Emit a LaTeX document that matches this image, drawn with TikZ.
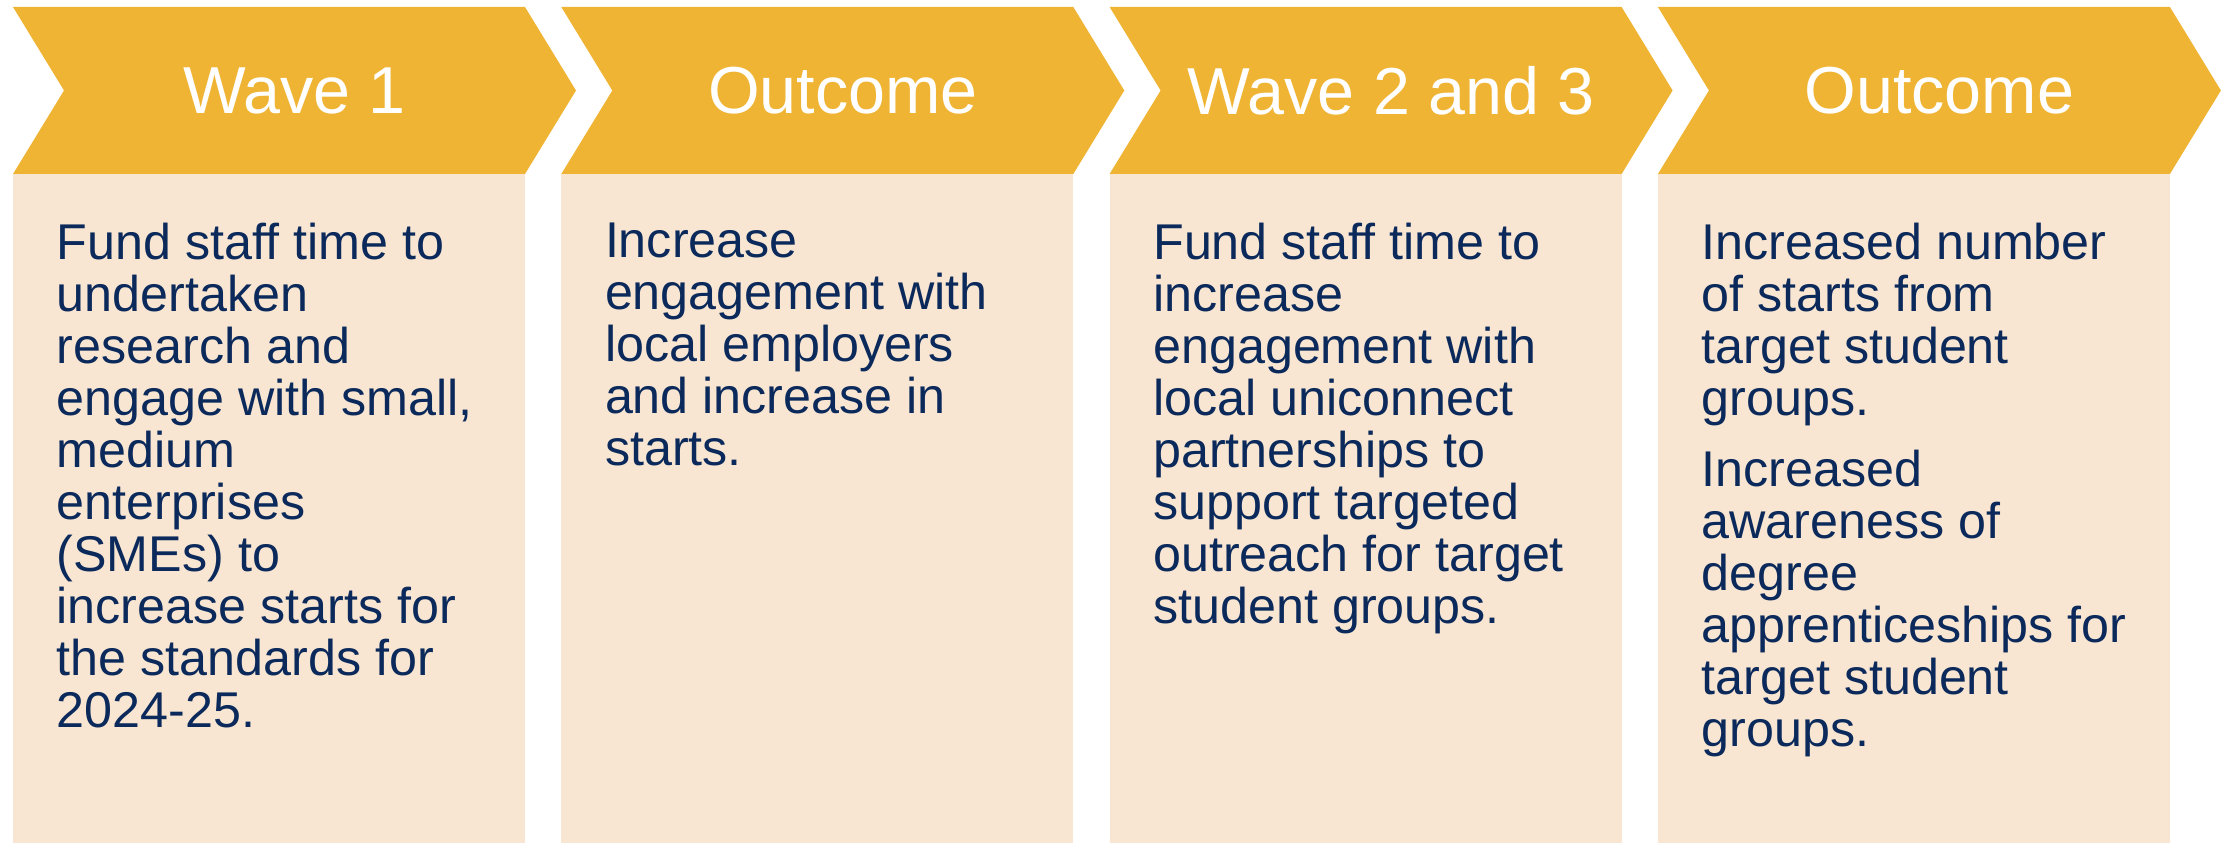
\documentclass[tikz,border=0pt]{standalone}
\usepackage{fontspec}
\setmainfont{Liberation Sans}
\usepackage{tikz}

\definecolor{headfill}{HTML}{F0B434}
\definecolor{boxfill}{HTML}{F8E6D2}
\definecolor{navy}{HTML}{0B2A5B}

\begin{document}
\begin{tikzpicture}[
		headtext/.style={text=white, inner sep=0pt, font=\fontsize{18.9}{22}\selectfont},
		bodytext/.style={text=navy, inner sep=0pt, anchor=north west, align=left, font=\fontsize{14.3}{14.8}\selectfont}
	]
				\useasboundingbox (0,0) rectangle (22.23,8.43);
				
				% Boxes
				\fill[boxfill] (0.13,0) rectangle (5.25,6.69);
				\fill[boxfill] (5.613,0) rectangle (10.733,6.69);
				\fill[boxfill] (11.096,0) rectangle (16.216,6.69);
				\fill[boxfill] (16.579,0) rectangle (21.699,6.69);
				
				% Chevrons
				\fill[headfill] (0.13,8.36) -- (5.25,8.36) -- (5.76,7.525) -- (5.25,6.69) -- (0.13,6.69) -- (0.64,7.525) -- cycle;
				\fill[headfill] (5.613,8.36) -- (10.733,8.36) -- (11.243,7.525) -- (10.733,6.69) -- (5.613,6.69) -- (6.123,7.525) -- cycle;
				\fill[headfill] (11.096,8.36) -- (16.216,8.36) -- (16.726,7.525) -- (16.216,6.69) -- (11.096,6.69) -- (11.606,7.525) -- cycle;
				\fill[headfill] (16.579,8.36) -- (21.699,8.36) -- (22.209,7.525) -- (21.699,6.69) -- (16.579,6.69) -- (17.089,7.525) -- cycle;
				
				% Headings
				\node[headtext] (wave1) at (2.945, 7.525) {Wave 1};
				\node[headtext] (outcome1) at (8.428, 7.525) {Outcome};
				\node[headtext] (wave23) at (13.911, 7.525) {Wave 2 and 3};
				\node[headtext] (outcome2) at (19.394, 7.525) {Outcome};
				
				% Texts
				\node[bodytext] (plan1) at (0.56, 6.21) {Fund staff time to\\undertaken\\research and\\engage with small,\\medium\\enterprises\\(SMEs) to\\increase starts for\\the standards for\\2024-25.};
				\node[bodytext] (result1) at (6.043, 6.21) {Increase\\engagement with\\local employers\\and increase in\\starts.};
				\node[bodytext] (plan23) at (11.526, 6.21) {Fund staff time to\\increase\\engagement with\\local uniconnect\\partnerships to\\support targeted\\outreach for target\\student groups.};
				\node[bodytext] (result2) at (17.009, 6.21) {Increased number\\of starts from\\target student\\groups.\\[5.4pt]Increased\\awareness of\\degree\\apprenticeships for\\target student\\groups.};
			\end{tikzpicture}
\end{document}
